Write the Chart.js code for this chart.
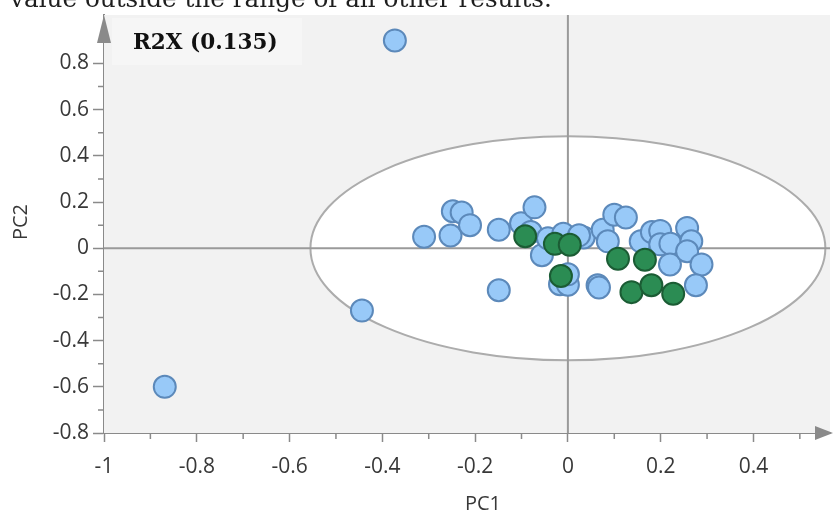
<!DOCTYPE html>
<html>
<head>
<meta charset="utf-8">
<script src="https://cdn.jsdelivr.net/npm/chart.js@4.4.0/dist/chart.umd.min.js"></script>
<style>
  html, body { margin: 0; padding: 0; background: #fff; }
  #wrap { position: relative; width: 833px; height: 513px; overflow: hidden; }
</style>
</head>
<body>
<div id="wrap"><canvas id="myChart" width="833" height="513"></canvas></div>
<script>
// puntos azules (muestras normales)
const blueX = [-0.373, -0.869, -0.444, -0.310, -0.253, -0.248, -0.229, -0.211, -0.149, -0.149,
               -0.101, -0.072, -0.080, -0.056, -0.043, -0.010, -0.017, 0.000, 0.000, 0.034,
               0.024, 0.064, 0.067, 0.075, 0.086, 0.100, 0.125, 0.157, 0.181, 0.199,
               0.199, 0.221, 0.220, 0.257, 0.266, 0.257, 0.288, 0.276];
const blueY = [0.900, -0.600, -0.270, 0.050, 0.055, 0.160, 0.155, 0.100, 0.080, -0.182,
               0.108, 0.177, 0.070, -0.030, 0.043, 0.063, -0.156, -0.158, -0.113, 0.047,
               0.056, -0.160, -0.170, 0.080, 0.030, 0.145, 0.133, 0.030, 0.070, 0.075,
               0.017, 0.020, -0.070, 0.088, 0.030, -0.013, -0.070, -0.160];
// puntos verdes
const greenX = [-0.092, -0.028, 0.004, -0.015, 0.108, 0.166, 0.137, 0.180, 0.227];
const greenY = [0.052, 0.019, 0.015, -0.120, -0.045, -0.050, -0.190, -0.160, -0.197];

// ticks de los ejes
const xTicks = [-1, -0.8, -0.6, -0.4, -0.2, 0, 0.2, 0.4];
const yTicks = [-0.8, -0.6, -0.4, -0.2, 0, 0.2, 0.4, 0.6, 0.8];

// elipse de Hotelling (radios en unidades de los ejes)
const ellipseRx = 0.555;
const ellipseRy = 0.485;

const r2xLabel = 'R2X (0.135)';
const topText = 'value outside the range of all other results.';

const toPoints = (xs, ys) => xs.map((x, i) => ({ x: x, y: ys[i] }));

const tickFont = { family: '"Open Sans", sans-serif', size: 21 };
const textGrey = '#383838';
const axisGrey = '#8a8a8a';

const decor = {
    id: 'decor',
    beforeDatasetsDraw(chart) {
        const { ctx, chartArea: a, scales: { x, y } } = chart;
        ctx.save();
        // fondo gris del área
        ctx.fillStyle = '#f2f2f2';
        ctx.fillRect(a.left, a.top, a.right - a.left, a.bottom - a.top);

        // elipse
        const cx = x.getPixelForValue(0), cy = y.getPixelForValue(0);
        const rx = x.getPixelForValue(ellipseRx) - cx;
        const ry = cy - y.getPixelForValue(ellipseRy);
        ctx.beginPath();
        ctx.ellipse(cx, cy, rx, ry, 0, 0, Math.PI * 2);
        ctx.fillStyle = '#ffffff';
        ctx.fill();
        ctx.lineWidth = 2;
        ctx.strokeStyle = '#acacac';
        ctx.stroke();

        // líneas de cero
        ctx.strokeStyle = '#9a9a9a';
        ctx.lineWidth = 2;
        ctx.beginPath();
        ctx.moveTo(cx, a.top);
        ctx.lineTo(cx, a.bottom);
        ctx.moveTo(a.left, cy);
        ctx.lineTo(a.right, cy);
        ctx.stroke();

        // cuadro R2X
        ctx.fillStyle = '#f6f6f6';
        ctx.fillRect(112, 18, 190, 47);
        ctx.fillStyle = '#111';
        ctx.font = 'bold 21.5px "DejaVu Serif", serif';
        ctx.textBaseline = 'middle';
        ctx.textAlign = 'left';
        ctx.fillText(r2xLabel, 133, 43);
        ctx.restore();
    },
    afterDraw(chart) {
        const { ctx, chartArea: a, scales: { x, y } } = chart;
        ctx.save();
        ctx.strokeStyle = axisGrey;
        ctx.fillStyle = axisGrey;
        ctx.lineWidth = 1.5;

        // ticks menores
        ctx.beginPath();
        for (let i = 0; i < xTicks.length; i++) {
            const px = x.getPixelForValue(xTicks[i] + 0.1);
            if (px > a.right - 20) continue;
            ctx.moveTo(px, a.bottom);
            ctx.lineTo(px, a.bottom + 6);
        }
        for (let i = 0; i < yTicks.length; i++) {
            const py = y.getPixelForValue(yTicks[i] + 0.1);
            if (py < a.top + 30) continue;
            ctx.moveTo(a.left, py);
            ctx.lineTo(a.left - 6, py);
        }
        ctx.stroke();

        // flechas
        ctx.beginPath();
        ctx.moveTo(a.left, a.top);
        ctx.lineTo(a.left - 7, a.top + 28);
        ctx.lineTo(a.left + 7, a.top + 28);
        ctx.closePath();
        ctx.fill();
        ctx.beginPath();
        ctx.moveTo(833, a.bottom);
        ctx.lineTo(815, a.bottom - 7);
        ctx.lineTo(815, a.bottom + 7);
        ctx.closePath();
        ctx.fill();

        // títulos de los ejes
        ctx.fillStyle = textGrey;
        ctx.font = '20px "Open Sans", sans-serif';
        ctx.textAlign = 'center';
        ctx.textBaseline = 'middle';
        ctx.fillText('PC1', 483, 504);
        ctx.save();
        ctx.translate(21, 222);
        ctx.rotate(-Math.PI / 2);
        ctx.fillText('PC2', 0, 0);
        ctx.restore();

        // texto cortado de arriba
        ctx.fillStyle = '#1e1e1e';
        ctx.font = '20px "DejaVu Serif", serif';
        const size = 20 * 542 / ctx.measureText(topText).width;
        ctx.font = size.toFixed(1) + 'px "DejaVu Serif", serif';
        ctx.textAlign = 'left';
        ctx.textBaseline = 'alphabetic';
        ctx.fillText(topText, 10, 7);
        ctx.restore();
    }
};

const ctx = document.getElementById('myChart').getContext('2d');
const myChart = new Chart(ctx, {
    type: 'scatter',
    data: {
        datasets: [{
            data: toPoints(greenX, greenY),
            backgroundColor: '#2b8c53',
            borderColor: '#1b5c34',
            borderWidth: 2,
            pointRadius: 11,
            pointHoverRadius: 11
        }, {
            data: toPoints(blueX, blueY),
            backgroundColor: '#98c9f8',
            borderColor: '#5c89ba',
            borderWidth: 2,
            pointRadius: 11,
            pointHoverRadius: 11
        }]
    },
    options: {
        responsive: false,
        animation: false,
        devicePixelRatio: 1,
        layout: { autoPadding: false, padding: { top: 15, right: 3, left: 0, bottom: 0 } },
        plugins: { legend: { display: false }, tooltip: { enabled: false } },
        scales: {
            x: {
                type: 'linear',
                min: -1,
                max: 0.565,
                afterBuildTicks: s => { s.ticks = xTicks.map(v => ({ value: v })); },
                afterFit: s => { s.height = 80; s.paddingLeft = 0; s.paddingRight = 0; },
                ticks: {
                    font: tickFont,
                    color: textGrey,
                    padding: 12,
                    maxRotation: 0,
                    callback: v => String(Math.round(v * 10) / 10)
                },
                grid: { display: true, drawOnChartArea: false, drawTicks: true, tickLength: 9, tickColor: axisGrey, tickWidth: 1.5 },
                border: { display: true, color: axisGrey, width: 2 }
            },
            y: {
                type: 'linear',
                min: -0.8,
                max: 1.01,
                afterBuildTicks: s => { s.ticks = yTicks.map(v => ({ value: v })); },
                afterFit: s => { s.width = 104; s.paddingTop = 0; s.paddingBottom = 0; },
                ticks: {
                    font: tickFont,
                    color: textGrey,
                    padding: 4,
                    callback: v => String(Math.round(v * 10) / 10)
                },
                grid: { display: true, drawOnChartArea: false, drawTicks: true, tickLength: 11, tickColor: axisGrey, tickWidth: 1.5 },
                border: { display: true, color: axisGrey, width: 2 }
            }
        }
    },
    plugins: [decor]
});
</script>
</body>
</html>
